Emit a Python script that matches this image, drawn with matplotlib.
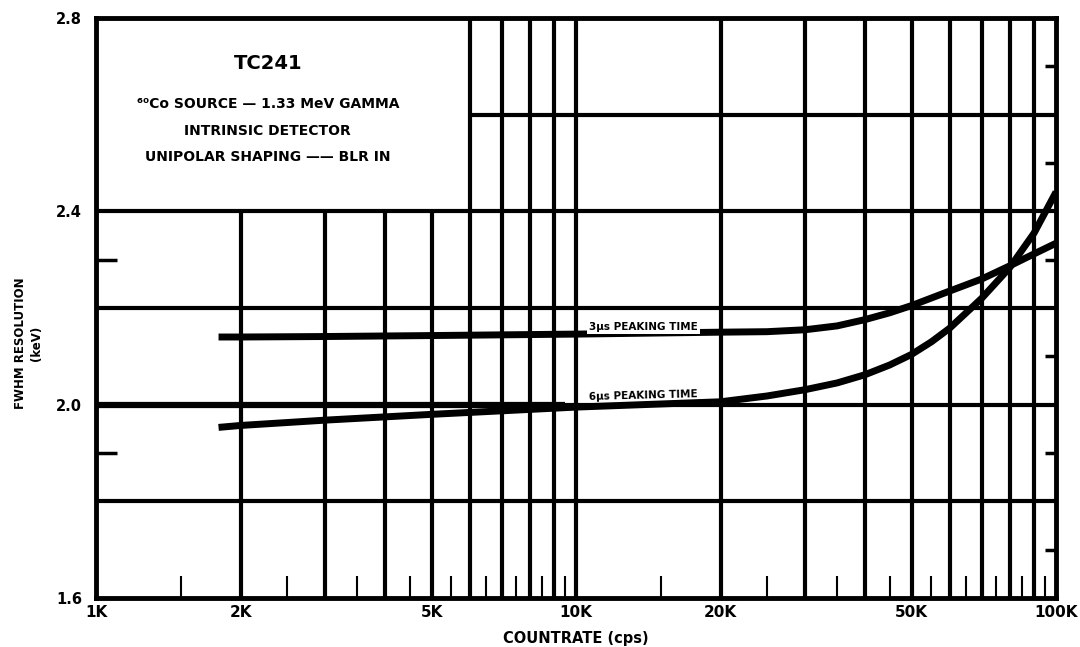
import matplotlib
matplotlib.use("Agg")
import matplotlib.pyplot as plt
import numpy as np

# count rate (cps) and FWHM (keV)
rate_3us = [1800, 2000, 3000, 5000, 10000, 20000, 25000, 30000, 35000, 40000, 45000, 50000,
            60000, 70000, 80000, 90000, 100000]
fwhm_3us = [2.140, 2.140, 2.141, 2.143, 2.146, 2.150, 2.151, 2.155, 2.163, 2.176, 2.190, 2.205,
            2.235, 2.260, 2.287, 2.312, 2.334]

rate_6us = [1800, 2000, 3000, 5000, 10000, 20000, 25000, 30000, 35000, 40000, 45000, 50000,
            55000, 60000, 70000, 80000, 90000, 100000]
fwhm_6us = [1.953, 1.957, 1.968, 1.980, 1.995, 2.006, 2.018, 2.031, 2.045, 2.062, 2.082, 2.104,
            2.130, 2.158, 2.220, 2.283, 2.355, 2.440]

x_major = [1000, 2000, 5000, 10000, 20000, 50000, 100000]
x_major_labels = ["1K", "2K", "5K", "10K", "20K", "50K", "100K"]
x_grid = [2000, 3000, 4000, 5000, 6000, 7000, 8000, 9000, 10000,
          20000, 30000, 40000, 50000, 60000, 70000, 80000, 90000]
x_half = [1500, 2500, 3500, 4500, 5500, 6500, 7500, 8500, 9500,
          15000, 25000, 35000, 45000, 55000, 65000, 75000, 85000, 95000]

y_major = [1.6, 2.0, 2.4, 2.8]
y_major_labels = ["1.6", "2.0", "2.4", "2.8"]
y_grid = [1.8, 2.0, 2.2, 2.4]
y_left_ticks = [1.9, 2.3]
y_right_ticks = [1.7, 1.9, 2.1, 2.3, 2.5, 2.7]

box_top = 2.4      # header box covers the grid above this, left of box_edge
box_edge = 6000

note_lines = ["⁶⁰Co SOURCE — 1.33 MeV GAMMA", "INTRINSIC DETECTOR", "UNIPOLAR SHAPING —— BLR IN"]

fig = plt.figure(figsize=(10.8, 6.47), dpi=100)
ax = fig.add_axes([0.0889, 0.0757, 0.8889, 0.8965])
ax.set_xscale("log")
ax.set_xlim(1000, 100000)
ax.set_ylim(1.6, 2.8)

grid_kw = dict(color="black", linewidth=3, zorder=1)
for xv in x_grid:
    top = box_top if xv < box_edge else 2.8
    ax.vlines(xv, 1.6, top, **grid_kw)
for yv in y_grid:
    ax.hlines(yv, 1000, 100000, **grid_kw)
ax.hlines(2.6, box_edge, 100000, **grid_kw)
ax.hlines(2.0, 1000, 9500, color="black", linewidth=4.5, zorder=1)

ax.plot(rate_3us, fwhm_3us, color="black", linewidth=5, solid_capstyle="butt", zorder=3)
ax.plot(rate_6us, fwhm_6us, color="black", linewidth=5, solid_capstyle="butt", zorder=3)

lab_kw = dict(fontsize=7.5, fontweight="bold", ha="center", va="bottom", zorder=4)
ax.text(13800, 2.150, "3μs PEAKING TIME",
        bbox=dict(facecolor="white", edgecolor="none", pad=1.5), **lab_kw)
ax.text(13800, 2.006, "6μs PEAKING TIME", rotation=1.5, **lab_kw)

ax.text(0.179, 0.922, "TC241", transform=ax.transAxes, ha="center", va="center",
        fontsize=14, fontweight="bold")
for i, line in enumerate(note_lines):
    ax.text(0.179, 0.852 - i * 0.046, line, transform=ax.transAxes, ha="center", va="center",
            fontsize=10, fontweight="bold")

for s in ax.spines.values():
    s.set_linewidth(3.5)
    s.set_zorder(5)

ax.set_xticks(x_major)
ax.set_xticklabels(x_major_labels)
ax.set_xticks(x_half, minor=True)
ax.tick_params(axis="x", which="major", length=0, pad=5, labelsize=11)
ax.tick_params(axis="x", which="minor", direction="in", length=16, width=1.5, labelbottom=False)
for t in ax.get_xticklabels():
    t.set_fontweight("bold")

ax.set_yticks(y_major)
ax.set_yticklabels(y_major_labels)
ax.set_yticks(y_left_ticks, minor=True)
ax.tick_params(axis="y", which="major", length=0, pad=10, labelsize=10.5)
ax.tick_params(axis="y", which="minor", direction="in", length=15, width=2.5)
for t in ax.get_yticklabels():
    t.set_fontweight("bold")

ax2 = ax.twinx()
ax2.set_ylim(1.6, 2.8)
ax2.set_yticks(y_right_ticks)
ax2.set_yticklabels([])
ax2.tick_params(axis="y", direction="in", length=8, width=2.5)
for s in ax2.spines.values():
    s.set_visible(False)

ax.set_xlabel("COUNTRATE (cps)", fontsize=10.5, fontweight="bold", labelpad=8)
fig.text(0.019, 0.47, "FWHM RESOLUTION", rotation=90, ha="center", va="center",
         fontsize=8.5, fontweight="bold")
fig.text(0.034, 0.47, "(keV)", rotation=90, ha="center", va="center",
         fontsize=8.5, fontweight="bold")

fig.savefig("out.png", dpi=100, facecolor="white")
